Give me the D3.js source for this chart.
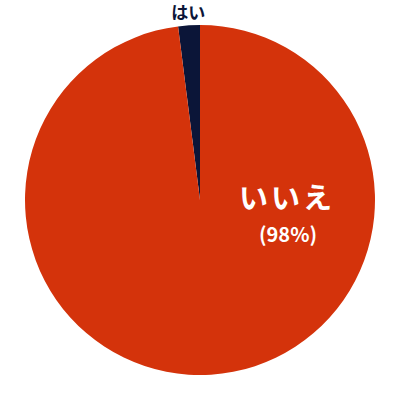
<!DOCTYPE html>
<html>
<head>
<meta charset="utf-8">
<script src="https://cdn.jsdelivr.net/npm/d3@7/dist/d3.min.js"></script>
<style>
  body { margin: 0; background: #fff; }
  text { font-family: "Noto Sans CJK JP", "Noto Sans", sans-serif; font-weight: 700; }
</style>
</head>
<body>
<div class="chart"></div>
<script>
var labels = ["はい", "いいえ"];
var values = [2, 98];
var colors = ["#0b1538", "#d4330b"];

var width = 400, height = 400;
var radius = 175;

var svg = d3.select("div.chart")
  .append("svg")
  .attr("width", width)
  .attr("height", height)
  .append("g")
  .attr("transform", `translate(${width / 2},${height / 2})`);

var data = labels.map((l, i) => ({ label: l, value: values[i], color: colors[i] }));

// はい sits just left of 12 o'clock, so run the pie counter-clockwise
var pie = d3.pie()
  .sort(null)
  .value(d => d.value)
  .startAngle(0)
  .endAngle(-2 * Math.PI);

var arc = d3.arc().innerRadius(0).outerRadius(radius);

var arcs = pie(data);

svg.selectAll("path")
  .data(arcs)
  .enter()
  .append("path")
  .attr("d", arc)
  .attr("fill", d => d.data.color);

// small slice label, outside
var small = arcs[0];
var outer = d3.arc().innerRadius(189).outerRadius(189);
var pSmall = outer.centroid(small);
svg.append("text")
  .attr("x", pSmall[0])
  .attr("y", pSmall[1])
  .attr("text-anchor", "middle")
  .attr("dominant-baseline", "central")
  .attr("fill", "#0b1538")
  .attr("font-size", 17)
  .text(small.data.label);

// big slice label, inside
var big = arcs[1];
svg.append("text")
  .attr("x", 87)
  .attr("y", 9)
  .attr("text-anchor", "middle")
  .attr("fill", "#fff")
  .attr("font-size", 29)
  .attr("letter-spacing", 3)
  .text(big.data.label);

svg.append("text")
  .attr("x", 88)
  .attr("y", 42)
  .attr("text-anchor", "middle")
  .attr("fill", "#fff")
  .attr("font-size", 20)
  .text("(" + big.data.value + "%)");
</script>
</body>
</html>
